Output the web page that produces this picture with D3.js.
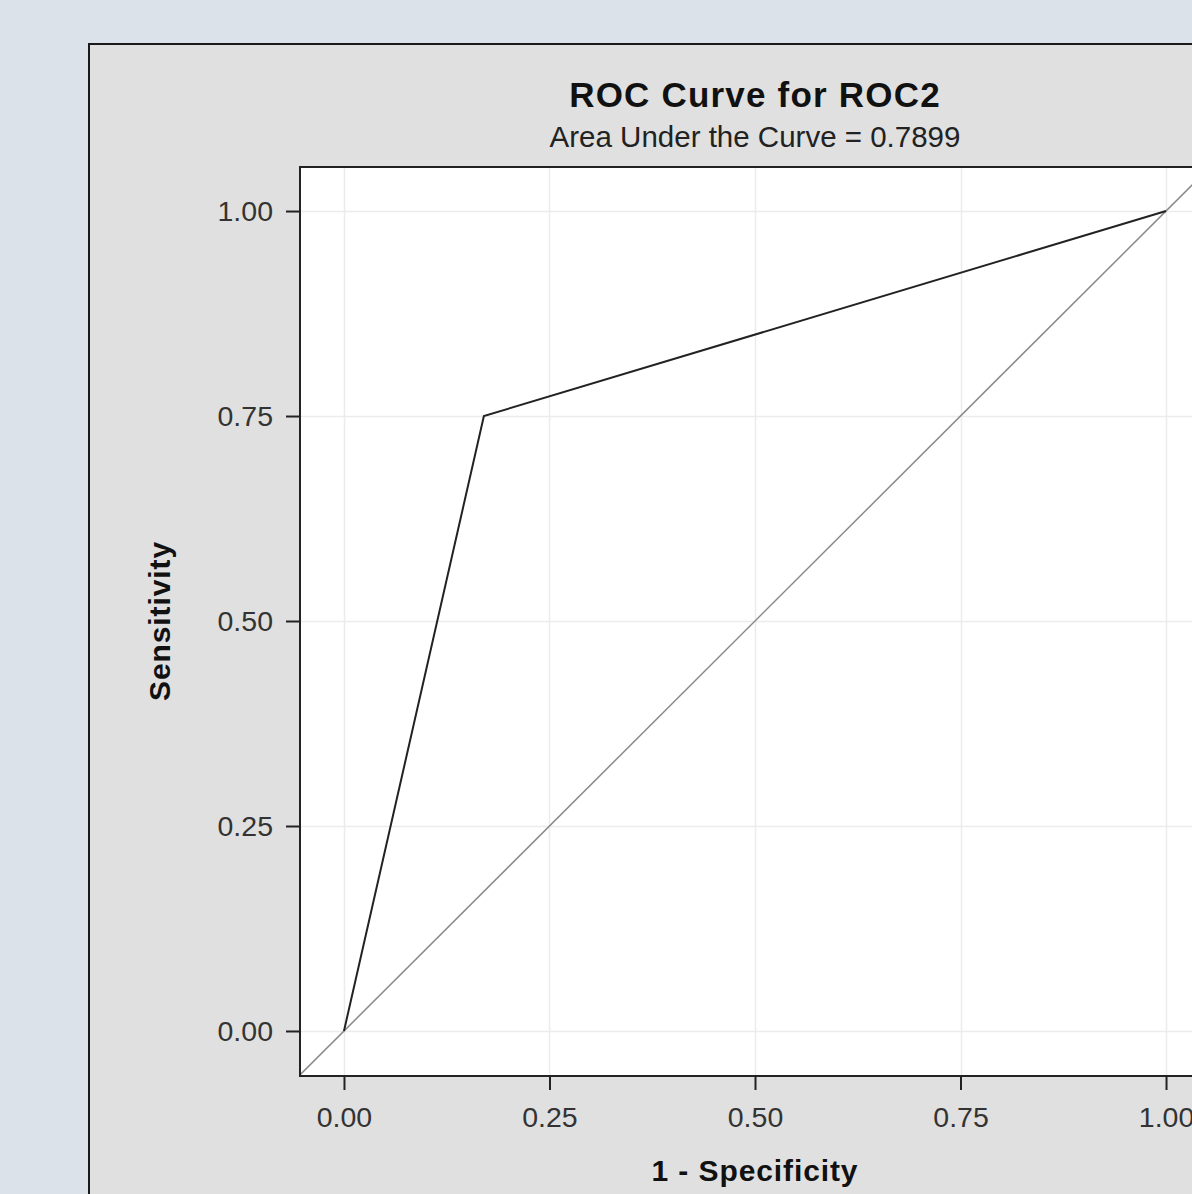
<!DOCTYPE html>
<html>
<head>
<meta charset="utf-8">
<script src="https://cdn.jsdelivr.net/npm/d3@7"></script>
<style>
  html, body { margin: 0; padding: 0; background: #dbe2ea; overflow: hidden; }
  text { font-family: "Liberation Sans", Arial, sans-serif; }
</style>
</head>
<body>
<div id="chart"></div>
<script>
// ROC points (1 - specificity, sensitivity)
var fpr = [0, 0.1702, 1];
var tpr = [0, 0.75, 1];
var tickVals = [0, 0.25, 0.5, 0.75, 1];
var chartTitle = "ROC Curve for ROC2";
var subTitle = "Area Under the Curve = 0.7899";

var svgWidth = 1192;
var svgHeight = 1194;

var plot = { left: 300, top: 167, right: 1210, bottom: 1076 };

var svg = d3.select("#chart")
  .append("svg")
  .attr("width", svgWidth)
  .attr("height", svgHeight);

// outer background + grey panel
svg.append("rect")
  .attr("width", svgWidth).attr("height", svgHeight)
  .attr("fill", "#dbe2ea");

svg.append("rect")
  .attr("x", 89).attr("y", 44)
  .attr("width", 1200).attr("height", 1200)
  .attr("fill", "#e0e0e0")
  .attr("stroke", "#1a1a1a")
  .attr("stroke-width", 2);

var xScale = d3.scaleLinear()
  .domain([-0.0535, 1.0535])
  .range([plot.left, plot.right]);

var yScale = d3.scaleLinear()
  .domain([-0.0549, 1.0537])
  .range([plot.bottom, plot.top]);

// plot area
svg.append("rect")
  .attr("x", plot.left).attr("y", plot.top)
  .attr("width", plot.right - plot.left)
  .attr("height", plot.bottom - plot.top)
  .attr("fill", "#ffffff");

// grid
svg.append("g").selectAll("line.vg")
  .data(tickVals).enter().append("line")
  .attr("x1", d => Math.round(xScale(d)) + 0.5)
  .attr("x2", d => Math.round(xScale(d)) + 0.5)
  .attr("y1", plot.top).attr("y2", plot.bottom)
  .attr("stroke", "#ececec").attr("stroke-width", 1.5);

svg.append("g").selectAll("line.hg")
  .data(tickVals).enter().append("line")
  .attr("y1", d => Math.round(yScale(d)) + 0.5)
  .attr("y2", d => Math.round(yScale(d)) + 0.5)
  .attr("x1", plot.left).attr("x2", plot.right)
  .attr("stroke", "#ececec").attr("stroke-width", 1.5);

// chance diagonal across the whole plot area
var clipId = "plotclip";
svg.append("clipPath").attr("id", clipId)
  .append("rect")
  .attr("x", plot.left).attr("y", plot.top)
  .attr("width", plot.right - plot.left)
  .attr("height", plot.bottom - plot.top);

svg.append("line")
  .attr("clip-path", `url(#${clipId})`)
  .attr("x1", xScale(-0.06)).attr("y1", yScale(-0.06))
  .attr("x2", xScale(1.06)).attr("y2", yScale(1.06))
  .attr("stroke", "#8a8a8a")
  .attr("stroke-width", 1.5);

// ROC curve
var line = d3.line()
  .x((d, i) => xScale(fpr[i]))
  .y((d, i) => yScale(tpr[i]));

svg.append("path")
  .datum(fpr)
  .attr("d", line)
  .attr("fill", "none")
  .attr("stroke", "#222222")
  .attr("stroke-width", 2);

// axes
var xAxis = d3.axisBottom(xScale).tickValues(tickVals)
  .tickFormat(d3.format(".2f")).tickSizeOuter(0).tickSize(14).tickPadding(17);
var yAxis = d3.axisLeft(yScale).tickValues(tickVals)
  .tickFormat(d3.format(".2f")).tickSizeOuter(0).tickSize(14).tickPadding(13);

var gx = svg.append("g")
  .attr("transform", `translate(0, ${plot.bottom})`)
  .call(xAxis);
var gy = svg.append("g")
  .attr("transform", `translate(${plot.left}, 0)`)
  .call(yAxis);

[gx, gy].forEach(function(g) {
  g.select(".domain").remove();
  g.selectAll(".tick line").attr("stroke", "#222").attr("stroke-width", 2);
  g.selectAll(".tick text")
    .attr("fill", "#333")
    .style("font-size", "28.5px")
    .style("font-family", "'Liberation Sans', Arial, sans-serif");
});

// plot frame
svg.append("rect")
  .attr("x", plot.left).attr("y", plot.top)
  .attr("width", plot.right - plot.left)
  .attr("height", plot.bottom - plot.top)
  .attr("fill", "none")
  .attr("stroke", "#222")
  .attr("stroke-width", 2);

// titles
var cx = (plot.left + plot.right) / 2;
svg.append("text")
  .attr("x", cx).attr("y", 107)
  .attr("text-anchor", "middle")
  .attr("font-weight", "bold")
  .attr("font-size", "35px")
  .attr("letter-spacing", "1.2px")
  .attr("fill", "#111")
  .text(chartTitle);

svg.append("text")
  .attr("x", cx).attr("y", 147)
  .attr("text-anchor", "middle")
  .attr("font-size", "29.5px")
  .attr("fill", "#222")
  .text(subTitle);

// axis labels
svg.append("text")
  .attr("x", cx).attr("y", 1181)
  .attr("text-anchor", "middle")
  .attr("font-weight", "bold")
  .attr("font-size", "30px")
  .attr("letter-spacing", "0.9px")
  .attr("fill", "#111")
  .text("1 - Specificity");

svg.append("text")
  .attr("transform", `translate(170, 621) rotate(-90)`)
  .attr("text-anchor", "middle")
  .attr("font-weight", "bold")
  .attr("font-size", "30px")
  .attr("letter-spacing", "0.9px")
  .attr("fill", "#111")
  .text("Sensitivity");
</script>
</body>
</html>
